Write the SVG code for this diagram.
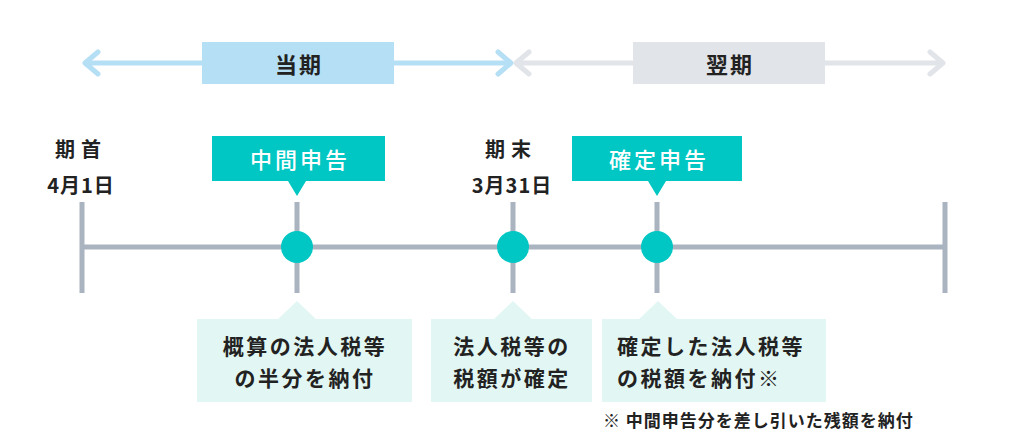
<svg xmlns="http://www.w3.org/2000/svg" width="1024" height="441" viewBox="0 0 1024 441">
<style>
text{font-family:"Noto Sans CJK JP","Noto Sans",sans-serif;font-weight:700;fill:#222;}
.hd{font-size:22px;text-anchor:middle;dominant-baseline:central;letter-spacing:2px;}
.wt{fill:#fff;font-size:22px;text-anchor:middle;dominant-baseline:central;letter-spacing:3px;font-weight:500;}
.lb{font-size:20px;text-anchor:middle;dominant-baseline:central;}
.bx{font-size:21px;dominant-baseline:central;letter-spacing:2.5px;font-weight:700;}
.tl{stroke:#aab4c0;stroke-width:5;fill:none;}
.dot{fill:#00c7c3;}
.tag{fill:#00c7c3;}
.note{fill:#e2f7f3;}
</style>
<g id="period-current">
<path d="M84 63H511" stroke="#b5dff5" stroke-width="5" fill="none"/>
<path d="M98 52L85 63L98 74M498 52L511 63L498 74" stroke="#b5dff5" stroke-width="5" fill="none" stroke-linecap="round" stroke-linejoin="round"/>
<rect x="202" y="42" width="192" height="42" fill="#b5dff5"/>
<text class="hd" x="299" y="63">当期</text>
</g>
<g id="period-next">
<path d="M515 63H943" stroke="#e1e4e8" stroke-width="5" fill="none"/>
<path d="M529 52L516 63L529 74M930 52L943 63L930 74" stroke="#e1e4e8" stroke-width="5" fill="none" stroke-linecap="round" stroke-linejoin="round"/>
<rect x="633" y="42" width="192" height="42" fill="#e1e4e8"/>
<text class="hd" x="730" y="63">翌期</text>
</g>
<g id="connectors">
<path class="tl" d="M82 247H945M82 202V293M945 202V293M297 202V293M513 202V293M657 202V293"/>
</g>
<g id="start">
<text class="lb" x="81" y="148" letter-spacing="6">期首</text>
<text class="lb" x="81" y="184" letter-spacing="1">4月1日</text>
</g>
<g id="end">
<text class="lb" x="511" y="148" letter-spacing="6">期末</text>
<text class="lb" x="512" y="184" letter-spacing="1">3月31日</text>
</g>
<g id="interim">
<circle class="dot" cx="297" cy="247" r="16"/>
<path class="tag" d="M212 136H385V181H306L297 196L288 181H212Z"/>
<text class="wt" x="300" y="158">中間申告</text>
</g>
<g id="final">
<circle class="dot" cx="657" cy="247" r="16"/>
<path class="tag" d="M572 136H742V181H666L657 196L648 181H572Z"/>
<text class="wt" x="659" y="158">確定申告</text>
</g>
<g id="mid-dot">
<circle class="dot" cx="513" cy="247" r="16"/>
</g>
<g id="note1">
<path class="note" d="M197 319H278L297 301L316 319H412V402H197Z"/>
<text class="bx" x="305" y="345" text-anchor="middle">概算の法人税等</text>
<text class="bx" x="305" y="377" text-anchor="middle">の半分を納付</text>
</g>
<g id="note2">
<path class="note" d="M431 319H494L513 301L532 319H592V402H431Z"/>
<text class="bx" x="512" y="345" text-anchor="middle">法人税等の</text>
<text class="bx" x="512" y="377" text-anchor="middle">税額が確定</text>
</g>
<g id="note3">
<path class="note" d="M602 319H639L658 301L677 319H826V402H602Z"/>
<text class="bx" x="617" y="345">確定した法人税等</text>
<text class="bx" x="617" y="377">の税額を納付※</text>
</g>
<g id="footnote">
<text x="603" y="419" font-size="17" dominant-baseline="central" letter-spacing="1">※ 中間申告分を差し引いた残額を納付</text>
</g>
</svg>
